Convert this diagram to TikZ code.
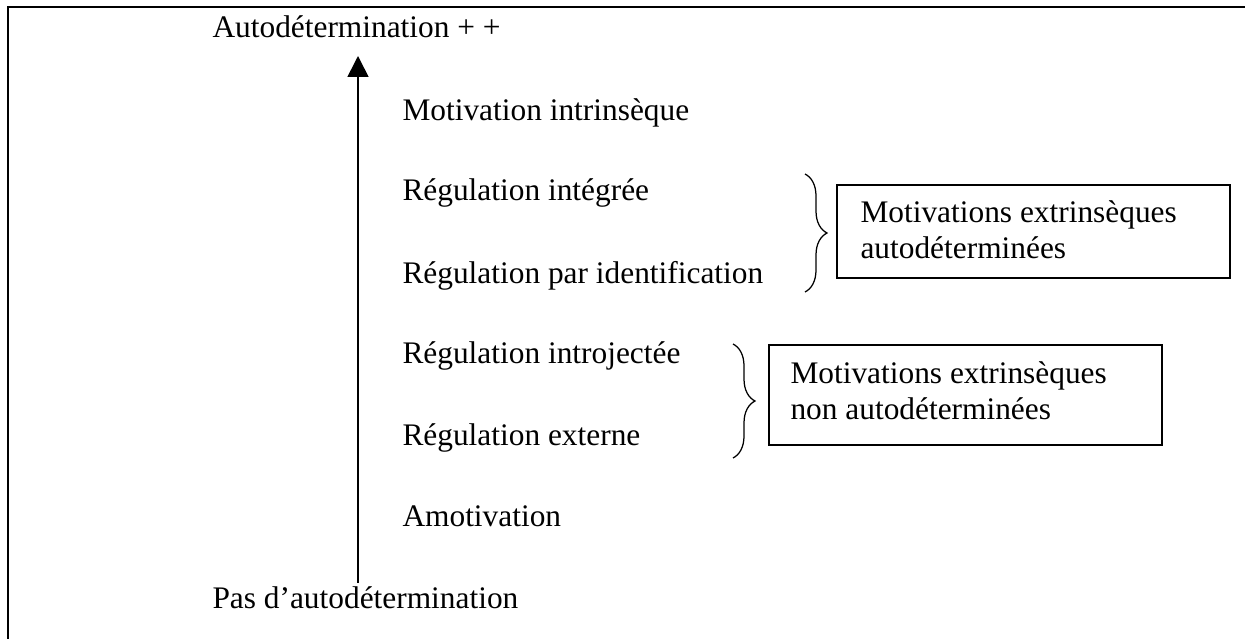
\documentclass[tikz,border=0pt]{standalone}
\usepackage{fontspec}
\setmainfont{Liberation Serif}
\usetikzlibrary{arrows.meta,decorations.pathreplacing}
\begin{document}
\begin{tikzpicture}[x=0.4pt,y=-0.4pt,
  lbl/.style={anchor=base west,inner sep=0pt,font=\fontsize{12.55pt}{13.7pt}\selectfont},
  boxtext/.style={lbl,align=left,font=\fontsize{12.55pt}{14.1pt}\selectfont},
  frameline/.style={line width=1.1pt},
  boxframe/.style={line width=0.5pt},
  bracestyle/.style={line width=0.5pt,decorate,decoration={brace,amplitude=8.8pt}},
  axis/.style={line width=0.65pt,-{Triangle[width=8.4pt,length=8.4pt]}}]
\useasboundingbox (0,0) rectangle (1245,639);
% outer frame (only left and top edges visible)
\draw[frameline] (8,650) -- (8,7) -- (1260,7);
% axis
\coordinate (abot) at (358,583);
\coordinate (atop) at (358,56);
\draw[axis] (abot) -- (atop);
% labels
\node[lbl] (top) at (212,38) {Autodétermination + +};
\node[lbl] (mi) at (402,121) {Motivation intrinsèque};
\node[lbl] (ri) at (402,201) {Régulation intégrée};
\node[lbl] (rpi) at (402,283) {Régulation par identification};
\node[lbl] (rij) at (402,363) {Régulation introjectée};
\node[lbl] (re) at (402,445) {Régulation externe};
\node[lbl] (am) at (402,526) {Amotivation};
\node[lbl] (bot) at (212,608) {Pas d’autodétermination};
% braces
\coordinate (b1t) at (805,174);
\coordinate (b1b) at (805,292);
\draw[bracestyle] (b1t) -- (b1b);
\coordinate (b2t) at (733,344);
\coordinate (b2b) at (733,458);
\draw[bracestyle] (b2t) -- (b2b);
% boxes
\draw[boxframe] (837,185) rectangle (1230,278);
\node[boxtext] (t1) at (860,258) {Motivations extrinsèques\\autodéterminées};
\draw[boxframe] (769,345) rectangle (1162,445);
\node[boxtext] (t2) at (790,419) {Motivations extrinsèques\\non autodéterminées};
\end{tikzpicture}
\end{document}
